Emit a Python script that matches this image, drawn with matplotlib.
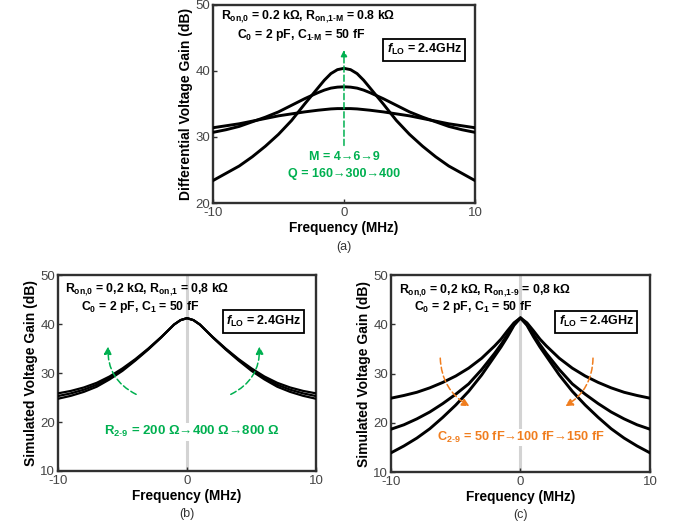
import matplotlib
matplotlib.use('Agg')
import matplotlib.pyplot as plt
from matplotlib import font_manager as fm
from matplotlib.patches import FancyArrowPatch

# 字体
names = {f.name for f in fm.fontManager.ttflist}
narrow = 'Liberation Sans Narrow' if 'Liberation Sans Narrow' in names else 'Liberation Sans'
plt.rcParams['font.family'] = [narrow, 'Liberation Sans', 'DejaVu Sans']
plt.rcParams['mathtext.fontset'] = 'custom'
plt.rcParams['mathtext.rm'] = narrow
plt.rcParams['mathtext.bf'] = narrow + ':bold'
plt.rcParams['mathtext.it'] = narrow + ':italic:bold'
plt.rcParams['mathtext.default'] = 'bf'
plt.rcParams['axes.unicode_minus'] = False

GREEN = '#00B050'
ORANGE = '#F07D1E'
FRAME = '#303030'

# 频率 (MHz)
freq = [-10, -9, -8, -7, -6, -5, -4, -3, -2, -1.5, -1, -0.5, 0,
        0.5, 1, 1.5, 2, 3, 4, 5, 6, 7, 8, 9, 10]

# (a) M = 4, 6, 9
gain_a_m4 = [31.4, 31.7, 32.0, 32.4, 32.8, 33.2, 33.5, 33.8, 34.05, 34.15, 34.25, 34.3, 34.3,
             34.3, 34.25, 34.15, 34.05, 33.8, 33.5, 33.2, 32.8, 32.4, 32.0, 31.7, 31.4]
gain_a_m6 = [30.7, 31.1, 31.6, 32.3, 33.0, 33.8, 34.8, 35.8, 36.7, 37.1, 37.4, 37.55, 37.6,
             37.55, 37.4, 37.1, 36.7, 35.8, 34.8, 33.8, 33.0, 32.3, 31.6, 31.1, 30.7]
gain_a_m9 = [23.4, 24.5, 25.6, 27.0, 28.6, 30.4, 32.5, 35.0, 37.4, 38.6, 39.6, 40.2, 40.4,
             40.2, 39.6, 38.6, 37.4, 35.0, 32.5, 30.4, 28.6, 27.0, 25.6, 24.5, 23.4]

# (b) R2-9 = 200, 400, 800 ohm
gain_b_r200 = [24.75, 25.35, 26.15, 27.2, 28.7, 30.45, 32.55, 34.8, 37.25, 38.6, 39.9, 40.8, 41.2,
               40.8, 39.9, 38.6, 37.25, 34.8, 32.55, 30.45, 28.7, 27.2, 26.15, 25.35, 24.75]
gain_b_r400 = [25.3, 25.85, 26.6, 27.6, 29.0, 30.7, 32.7, 34.9, 37.3, 38.6, 39.9, 40.8, 41.2,
               40.8, 39.9, 38.6, 37.3, 34.9, 32.7, 30.7, 29.0, 27.6, 26.6, 25.85, 25.3]
gain_b_r800 = [25.85, 26.35, 27.05, 28.0, 29.3, 30.95, 32.85, 35.0, 37.35, 38.6, 39.9, 40.8, 41.2,
               40.8, 39.9, 38.6, 37.35, 35.0, 32.85, 30.95, 29.3, 28.0, 27.05, 26.35, 25.85]

# (c) C2-9 = 50, 100, 150 fF
gain_c_50f = [25.0, 25.55, 26.2, 27.1, 28.2, 29.5, 31.1, 33.1, 35.6, 37.0, 38.7, 40.3, 41.3,
              40.3, 38.7, 37.0, 35.6, 33.1, 31.1, 29.5, 28.2, 27.1, 26.2, 25.55, 25.0]
gain_c_100f = [18.7, 19.6, 20.8, 22.2, 23.9, 25.8, 27.9, 30.8, 34.1, 35.9, 37.9, 40.0, 41.3,
               40.0, 37.9, 35.9, 34.1, 30.8, 27.9, 25.8, 23.9, 22.2, 20.8, 19.6, 18.7]
gain_c_150f = [13.9, 15.3, 16.9, 18.8, 21.1, 23.6, 26.4, 29.7, 33.5, 35.4, 37.5, 39.8, 41.3,
               39.8, 37.5, 35.4, 33.5, 29.7, 26.4, 23.6, 21.1, 18.8, 16.9, 15.3, 13.9]

fig = plt.figure(figsize=(6.77, 5.31), dpi=100)


def setup(ax, ylim, yticks, ylabel, tag):
    ax.set_xlim(-10, 10)
    ax.set_ylim(*ylim)
    ax.set_xticks([-10, 0, 10])
    ax.set_yticks(yticks)
    ax.tick_params(direction='in', length=3, width=1, colors=FRAME, labelsize=9.5,
                   labelcolor='#454545', pad=2)
    ax.tick_params(axis='x', pad=3)
    for lab in ax.get_xticklabels() + ax.get_yticklabels():
        lab.set_fontfamily('Liberation Sans')
    for s in ax.spines.values():
        s.set_linewidth(1.7)
        s.set_color(FRAME)
    ax.set_xlabel('Frequency (MHz)', fontsize=9.8, fontweight='bold', labelpad=1)
    ax.set_ylabel(ylabel, fontsize=10, fontweight='bold', labelpad=2)
    ax.text(0.5, -0.22, tag, transform=ax.transAxes, ha='center', va='center',
            fontsize=9, color='#333333', fontfamily='Liberation Sans')


def flo_box(ax, x, y):
    ax.text(x, y, r'$\mathit{f}_{LO}$ = 2.4GHz', transform=ax.transAxes, ha='center', va='center',
            fontsize=9, fontweight='bold',
            bbox=dict(boxstyle='square,pad=0.28', fc='white', ec='black', lw=1.3))


def curved_arrow(ax, p0, p1, rad, color):
    ax.add_patch(FancyArrowPatch(p0, p1, connectionstyle=f'arc3,rad={rad}', arrowstyle='-|>',
                                 mutation_scale=11, color=color, lw=1.1, linestyle=(0, (4, 2)),
                                 zorder=4))


# (a)
ax_a = fig.add_axes([0.3146, 0.6177, 0.387, 0.373])
setup(ax_a, (20, 50), [20, 30, 40, 50], 'Differential Voltage Gain (dB)', '(a)')
for g in [gain_a_m4, gain_a_m6, gain_a_m9]:
    ax_a.plot(freq, g, color='black', lw=2.1, zorder=3)
ax_a.add_patch(FancyArrowPatch((0, 28.3), (0, 43.6), arrowstyle='-|>', mutation_scale=9,
                               color=GREEN, lw=1.1, linestyle=(0, (4, 2)), zorder=4))
ax_a.text(0, 27.0, 'M = 4→6→9', color=GREEN, ha='center', va='center', fontsize=9, fontweight='bold', zorder=5)
ax_a.text(0, 24.4, 'Q = 160→300→400', color=GREEN, ha='center', va='center', fontsize=9, fontweight='bold', zorder=5)
ax_a.text(0.03, 0.94, r'R$_{on{,}0}$ = 0.2 kΩ, R$_{on{,}1\text{-}M}$ = 0.8 kΩ', transform=ax_a.transAxes,
          ha='left', va='center', fontsize=8.8, fontweight='bold')
ax_a.text(0.092, 0.85, r'C$_0$ = 2 pF, C$_{1\text{-}M}$ = 50 fF', transform=ax_a.transAxes,
          ha='left', va='center', fontsize=8.8, fontweight='bold')
flo_box(ax_a, 0.805, 0.773)

# (b)
ax_b = fig.add_axes([0.0857, 0.113, 0.381, 0.369])
setup(ax_b, (10, 50), [10, 20, 30, 40, 50], 'Simulated Voltage Gain (dB)', '(b)')
ax_b.axvline(0, color='#d3d3d3', lw=2.2, zorder=1)
for g in [gain_b_r200, gain_b_r400, gain_b_r800]:
    ax_b.plot(freq, g, color='black', lw=1.6, zorder=3)
curved_arrow(ax_b, (-3.75, 25.4), (-6.1, 36.0), -0.35, GREEN)
curved_arrow(ax_b, (3.2, 25.4), (5.6, 36.0), 0.35, GREEN)
ax_b.text(0.4, 18.0, r'R$_{2\text{-}9}$ = 200 Ω→400 Ω→800 Ω', color=GREEN, ha='center', va='center',
          fontsize=9.5, fontweight='bold', zorder=5,
          bbox=dict(boxstyle='square,pad=0.1', fc='white', ec='none'))
ax_b.text(0.027, 0.923, r'R$_{on{,}0}$ = 0,2 kΩ, R$_{on{,}1}$ = 0,8 kΩ', transform=ax_b.transAxes,
          ha='left', va='center', fontsize=8.8, fontweight='bold')
ax_b.text(0.089, 0.838, r'C$_0$ = 2 pF, C$_1$ = 50 fF', transform=ax_b.transAxes,
          ha='left', va='center', fontsize=8.8, fontweight='bold')
flo_box(ax_b, 0.797, 0.763)

# (c)
ax_c = fig.add_axes([0.5775, 0.111, 0.3826, 0.371])
setup(ax_c, (10, 50), [10, 20, 30, 40, 50], 'Simulated Voltage Gain (dB)', '(c)')
ax_c.axvline(0, color='#d3d3d3', lw=2.2, zorder=1)
for g in [gain_c_50f, gain_c_100f, gain_c_150f]:
    ax_c.plot(freq, g, color='black', lw=2.1, zorder=3)
curved_arrow(ax_c, (-6.2, 33.7), (-3.75, 23.1), 0.3, ORANGE)
curved_arrow(ax_c, (5.6, 33.7), (3.27, 23.1), -0.3, ORANGE)
ax_c.text(0.0, 17.0, r'C$_{2\text{-}9}$ = 50 fF→100 fF→150 fF', color=ORANGE, ha='center', va='center',
          fontsize=9.2, fontweight='bold', zorder=5,
          bbox=dict(boxstyle='square,pad=0.1', fc='white', ec='none'))
ax_c.text(0.031, 0.923, r'R$_{on{,}0}$ = 0,2 kΩ, R$_{on{,}1\text{-}9}$ = 0,8 kΩ', transform=ax_c.transAxes,
          ha='left', va='center', fontsize=8.8, fontweight='bold')
ax_c.text(0.089, 0.838, r'C$_0$ = 2 pF, C$_1$ = 50 fF', transform=ax_c.transAxes,
          ha='left', va='center', fontsize=8.8, fontweight='bold')
flo_box(ax_c, 0.793, 0.764)

fig.savefig('out.png', dpi=100)
